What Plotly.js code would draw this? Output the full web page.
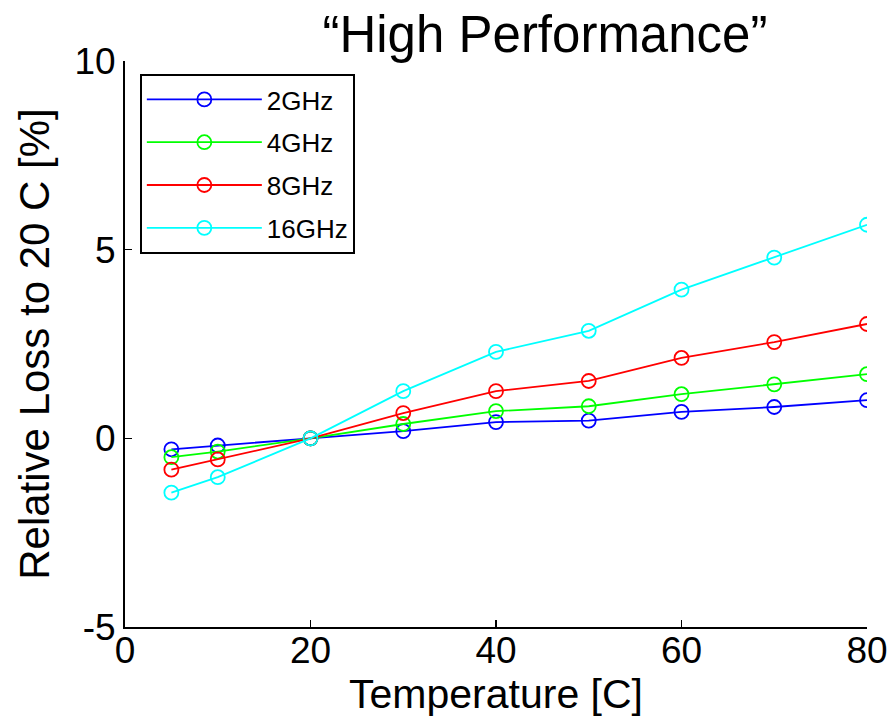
<!DOCTYPE html>
<html>
<head>
<meta charset="utf-8">
<script src="https://cdn.plot.ly/plotly-3.0.1.min.js"></script>
<style>html,body{margin:0;padding:0;background:#fff;}#chart{width:895px;height:717px;}</style>
</head>
<body>
<div id="chart"></div>
<script>
const temperature = [5, 10, 20, 30, 40, 50, 60, 70, 80];
const loss2GHz  = [-0.29, -0.19, 0, 0.19, 0.43, 0.47, 0.70, 0.83, 1.01];
const loss4GHz  = [-0.50, -0.35, 0, 0.38, 0.72, 0.85, 1.17, 1.43, 1.70];
const loss8GHz  = [-0.83, -0.56, 0, 0.67, 1.25, 1.52, 2.13, 2.55, 3.03];
const loss16GHz = [-1.44, -1.03, 0, 1.25, 2.29, 2.85, 3.94, 4.79, 5.66];
const seriesNames = ['2GHz', '4GHz', '8GHz', '16GHz'];
const seriesColors = ['#0000ff', '#00ff00', '#ff0000', '#00ffff'];
const seriesValues = [loss2GHz, loss4GHz, loss8GHz, loss16GHz];
const xTicks = [0, 20, 40, 60, 80];
const yTicks = [-5, 0, 5, 10];

const FONT = '"Liberation Sans", Arial, Helvetica, sans-serif';

const traces = seriesValues.map((vals, i) => ({
  x: temperature,
  y: vals,
  name: seriesNames[i],
  legendgroup: 'g' + i,
  type: 'scatter',
  mode: 'lines+markers',
  line: {color: seriesColors[i], width: 1.8},
  marker: {symbol: 'circle-open', size: 14, color: seriesColors[i], line: {width: 1.8, color: seriesColors[i]}}
}));

const layout = {
  width: 895, height: 717,
  paper_bgcolor: '#fff', plot_bgcolor: '#fff',
  margin: {l: 125, r: 28, t: 61, b: 90},
  font: {family: FONT, color: '#000'},
  title: {
    text: '\u201cHigh Performance\u201d',
    font: {family: FONT, size: 51, color: '#000'},
    x: 0.566, xref: 'paper', xanchor: 'center',
    y: 0.952, yref: 'container', yanchor: 'middle'
  },
  xaxis: {
    range: [0, 80], tickvals: xTicks, ticktext: xTicks.map(String),
    showgrid: false, zeroline: false,
    showline: true, linecolor: '#000', linewidth: 2,
    ticks: 'inside', ticklen: 7, tickwidth: 1.5, tickcolor: '#000',
    tickfont: {family: FONT, size: 37, color: '#000'},
    ticklabelstandoff: -10,
    title: {text: 'Temperature [C]', font: {family: FONT, size: 41, color: '#000'}, standoff: 0}
  },
  yaxis: {
    range: [-5, 10], tickvals: yTicks, ticktext: yTicks.map(String),
    showgrid: false, zeroline: false,
    showline: true, linecolor: '#000', linewidth: 2,
    ticks: 'inside', ticklen: 7, tickwidth: 1.5, tickcolor: '#000',
    tickfont: {family: FONT, size: 37, color: '#000'},
    title: {text: 'Relative Loss to 20 C [%]', font: {family: FONT, size: 42, color: '#000'}, standoff: 12}
  },
  showlegend: true,
  legend: {
    x: 0.02, y: 0.977, xanchor: 'left', yanchor: 'top',
    bgcolor: '#fff', bordercolor: '#000', borderwidth: 2,
    font: {family: FONT, size: 26, color: '#000'},
    tracegroupgap: 6,
    itemwidth: 115
  }
};

Plotly.newPlot('chart', traces, layout, {displayModeBar: false, staticPlot: true});
</script>
</body>
</html>
